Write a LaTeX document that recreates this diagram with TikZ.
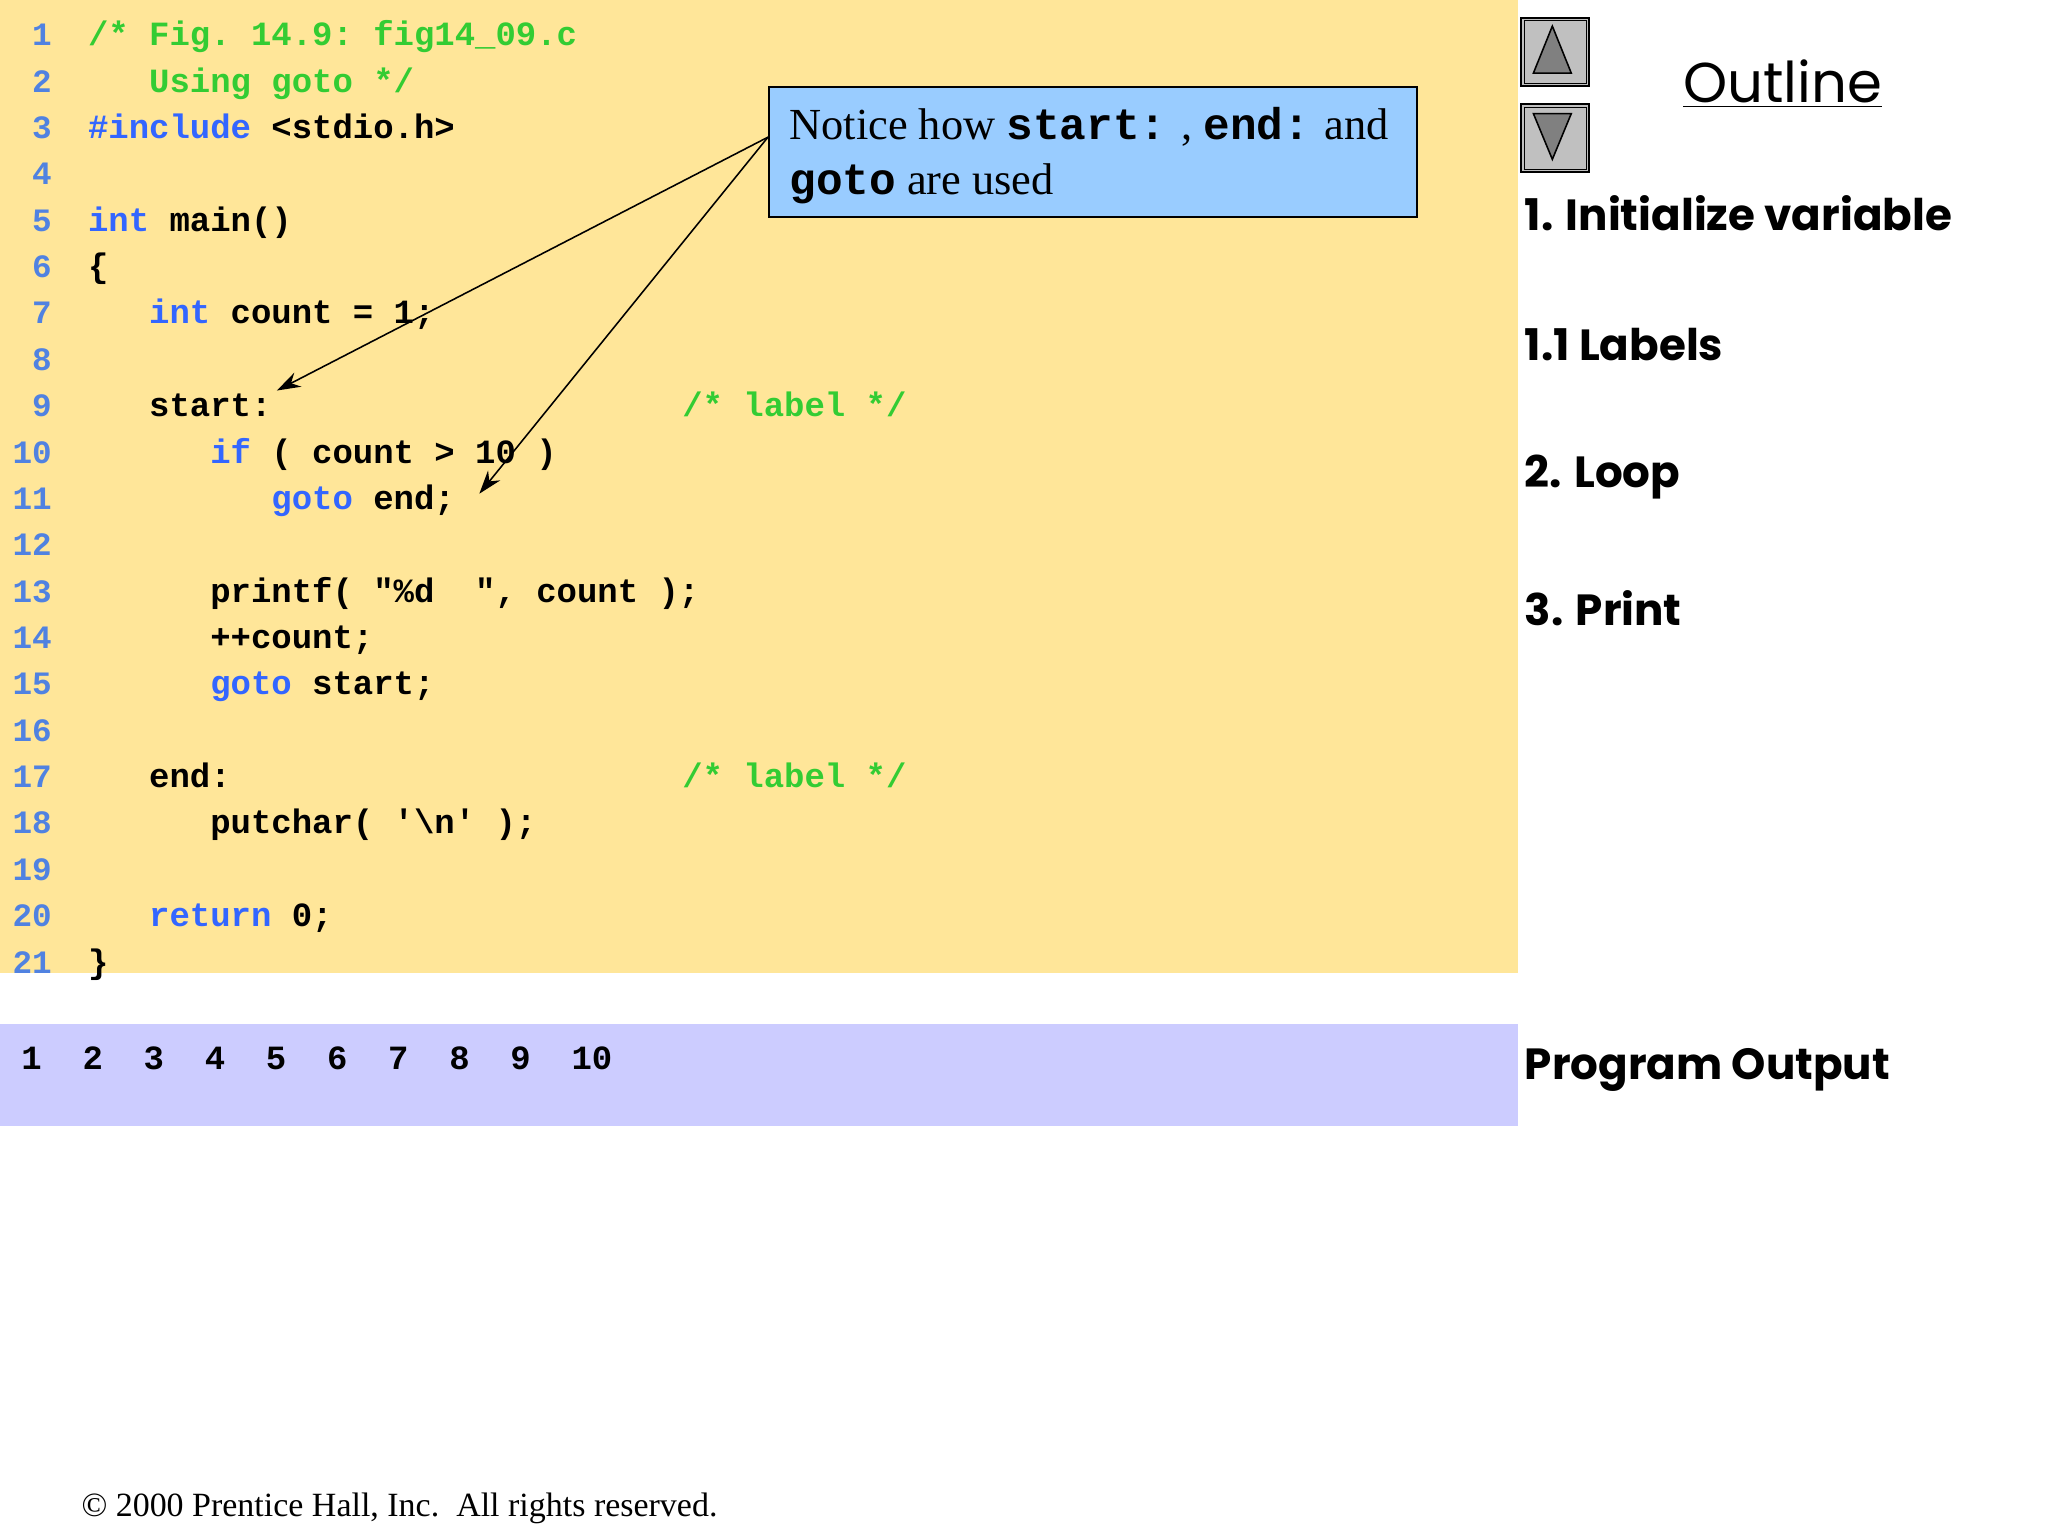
\documentclass[tikz,border=0pt]{standalone}
\usepackage{fontspec}
\usetikzlibrary{arrows.meta}
\setmainfont{Liberation Serif}
\newfontfamily\code{Liberation Mono}
\newfontfamily\gothic{Poppins}
\definecolor{panel}{RGB}{255,230,153}
\definecolor{outband}{RGB}{204,204,255}
\definecolor{callout}{RGB}{153,204,255}
\definecolor{kw}{RGB}{51,102,255}
\definecolor{cm}{RGB}{51,204,51}
\definecolor{ln}{RGB}{80,130,225}
\definecolor{btn}{RGB}{192,192,192}
\definecolor{tri}{RGB}{128,128,128}
\begin{document}
\begin{tikzpicture}[x=0.5pt,y=-0.5pt,
  codetxt/.style={anchor=west,inner sep=0pt,font=\code\bfseries\fontsize{13}{15}\selectfont},
  lnum/.style={anchor=east,inner sep=0pt,text=ln,font=\code\bfseries\fontsize{12.5}{15}\selectfont},
  kwd/.style={codetxt,text=kw},
  cmt/.style={codetxt,text=cm},
  outl/.style={anchor=west,inner sep=0pt,font=\gothic\bfseries\fontsize{16.7}{20}\selectfont},
  btnbox/.style={draw=black,fill=btn,line width=0.8pt},
  arr/.style={-{Stealth[length=9pt,width=6pt]},line width=0.6pt}]
\useasboundingbox (0,0) rectangle (1568,1176);
\fill[white] (0,0) rectangle (1568,1176);
\fill[panel] (0,0) rectangle (1162,745);
\fill[outband] (0,784) rectangle (1162,862);
\begin{scope}[shift={(0,3)}]
% line numbers
\foreach \i in {1,...,21} \node[lnum] (n\i) at (40,{26+35.5*(\i-1)}) {\strut\i};
\def\C#1{67+15.6*#1}
\node[cmt] (l1) at ({\C0},26) {\strut/*~Fig.~14.9:~fig14\_09.c};
\node[cmt] (l2) at ({\C3},61.5) {\strut Using~goto~*/};
\node[kwd] (l3a) at ({\C0},97) {\strut\#include};
\node[codetxt] (l3b) at ({\C9},97) {\strut<stdio.h>};
\node[kwd] (l5a) at ({\C0},168) {\strut int};
\node[codetxt] (l5b) at ({\C4},168) {\strut main()};
\node[codetxt] (l6) at ({\C0},203.5) {\strut\{};
\node[kwd] (l7a) at ({\C3},239) {\strut int};
\node[codetxt] (l7b) at ({\C7},239) {\strut count~=~1;};
\node[codetxt] (l9) at ({\C3},310) {\strut start:};
\node[cmt] (l9c) at (522,310) {\strut/*~label~*/};
\node[kwd] (l10a) at ({\C6},345.5) {\strut if};
\node[codetxt] (l10b) at ({\C9},345.5) {\strut(~count~>~10~)};
\node[kwd] (l11a) at ({\C9},381) {\strut goto};
\node[codetxt] (l11b) at ({\C14},381) {\strut end;};
\node[codetxt] (l13) at ({\C6},452) {\strut printf(~\char34\%d~~\char34,~count~);};
\node[codetxt] (l14) at ({\C6},487.5) {\strut++count;};
\node[kwd] (l15a) at ({\C6},523) {\strut goto};
\node[codetxt] (l15b) at ({\C11},523) {\strut start;};
\node[codetxt] (l17) at ({\C3},594) {\strut end:};
\node[cmt] (l17c) at (522,594) {\strut/*~label~*/};
\node[codetxt] (l18) at ({\C6},629.5) {\strut putchar(~\char39\textbackslash n\char39~);};
\node[kwd] (l20a) at ({\C3},700.5) {\strut return};
\node[codetxt] (l20b) at ({\C10},700.5) {\strut 0;};
\node[codetxt] (l21) at ({\C0},736) {\strut\}};
% output
\node[codetxt] (out) at (16,810) {\strut 1~~2~~3~~4~~5~~6~~7~~8~~9~~10};
\end{scope}
% callout
\node[draw=black,fill=callout,line width=0.8pt,minimum width=248pt,minimum height=49.5pt,anchor=north west,inner sep=0pt] (call) at (588,66) {};
\node[anchor=north west,inner sep=0pt,align=left,font=\fontsize{17}{21}\selectfont] (calltxt) at (604,82)
 {Notice how {\code\bfseries start:} , {\code\bfseries end:} and\\{\code\bfseries goto} are used};
\coordinate (cp) at (588,105);
\coordinate (tstart) at (212,299);
\coordinate (tend) at (367,378);
\draw[arr] (cp) -- (tstart);
\draw[arr] (cp) -- (tend);
% buttons
\node[btnbox,minimum size=26pt,inner sep=0pt,anchor=north west] (up) at (1164,13) {};
\node[btnbox,minimum size=26pt,inner sep=0pt,anchor=north west] (down) at (1164,79) {};
\draw[black,line width=0.4pt] ([shift={(3,3)}]up.north west) rectangle ([shift={(-3,-3)}]up.south east);
\draw[black,line width=0.4pt] ([shift={(3,3)}]down.north west) rectangle ([shift={(-3,-3)}]down.south east);
\draw[fill=tri,line width=0.6pt] (1174,56) -- (1203,56) -- (1188.5,20) -- cycle;
\draw[fill=tri,line width=0.6pt] (1174,87) -- (1203,87) -- (1188.5,122) -- cycle;
% outline
\node[inner sep=0pt,font=\gothic\fontsize{21.5}{26}\selectfont] (outline) at (1365,64) {\underline{Outline}};
\node[outl] (o1) at (1167,163) {1. Initialize variable};
\node[outl] (o2) at (1167,264) {1.1 Labels};
\node[outl] (o3) at (1167,365) {2. Loop};
\node[outl] (o4) at (1167,466) {3. Print};
\node[outl] (o5) at (1167,819) {Program Output};
\node[anchor=west,inner sep=0pt,font=\fontsize{13}{15}\selectfont] (copy) at (62,1155) {\textcopyright\ 2000 Prentice Hall, Inc.\ \ All rights reserved.};
\end{tikzpicture}
\end{document}
